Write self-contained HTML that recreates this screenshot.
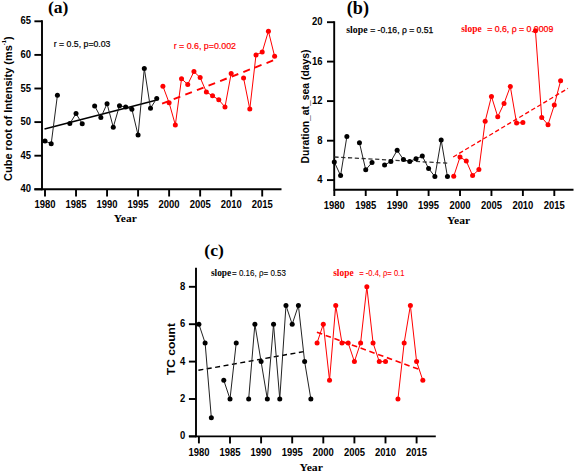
<!DOCTYPE html><html><head><meta charset="utf-8"><style>html,body{margin:0;padding:0;background:#fff;}svg{display:block;}</style></head><body>
<svg width="575" height="473" viewBox="0 0 575 473">
<rect width="575" height="473" fill="#fff"/>
<line x1="42" y1="20.35" x2="42" y2="190.25" stroke="#000" stroke-width="1.9"/>
<line x1="34.4" y1="189.3" x2="281.5" y2="189.3" stroke="#000" stroke-width="1.9"/>
<line x1="34.4" y1="189.3" x2="42" y2="189.3" stroke="#000" stroke-width="1.9"/>
<text transform="translate(31,192.32) scale(0.9,1)" font-family='"Liberation Sans", sans-serif' font-size="10.5" font-weight="bold" text-anchor="end" fill="#000">40</text>
<line x1="34.4" y1="155.7" x2="42" y2="155.7" stroke="#000" stroke-width="1.9"/>
<text transform="translate(31,158.72) scale(0.9,1)" font-family='"Liberation Sans", sans-serif' font-size="10.5" font-weight="bold" text-anchor="end" fill="#000">45</text>
<line x1="34.4" y1="122.1" x2="42" y2="122.1" stroke="#000" stroke-width="1.9"/>
<text transform="translate(31,125.12) scale(0.9,1)" font-family='"Liberation Sans", sans-serif' font-size="10.5" font-weight="bold" text-anchor="end" fill="#000">50</text>
<line x1="34.4" y1="88.5" x2="42" y2="88.5" stroke="#000" stroke-width="1.9"/>
<text transform="translate(31,91.52) scale(0.9,1)" font-family='"Liberation Sans", sans-serif' font-size="10.5" font-weight="bold" text-anchor="end" fill="#000">55</text>
<line x1="34.4" y1="54.9" x2="42" y2="54.9" stroke="#000" stroke-width="1.9"/>
<text transform="translate(31,57.92) scale(0.9,1)" font-family='"Liberation Sans", sans-serif' font-size="10.5" font-weight="bold" text-anchor="end" fill="#000">60</text>
<line x1="34.4" y1="21.3" x2="42" y2="21.3" stroke="#000" stroke-width="1.9"/>
<text transform="translate(31,24.32) scale(0.9,1)" font-family='"Liberation Sans", sans-serif' font-size="10.5" font-weight="bold" text-anchor="end" fill="#000">65</text>
<line x1="45" y1="189.3" x2="45" y2="196.5" stroke="#000" stroke-width="1.9"/>
<text transform="translate(45,208.3) scale(0.9,1)" font-family='"Liberation Sans", sans-serif' font-size="10.5" font-weight="bold" text-anchor="middle" fill="#000">1980</text>
<line x1="76.03" y1="189.3" x2="76.03" y2="196.5" stroke="#000" stroke-width="1.9"/>
<text transform="translate(76.03,208.3) scale(0.9,1)" font-family='"Liberation Sans", sans-serif' font-size="10.5" font-weight="bold" text-anchor="middle" fill="#000">1985</text>
<line x1="107.06" y1="189.3" x2="107.06" y2="196.5" stroke="#000" stroke-width="1.9"/>
<text transform="translate(107.06,208.3) scale(0.9,1)" font-family='"Liberation Sans", sans-serif' font-size="10.5" font-weight="bold" text-anchor="middle" fill="#000">1990</text>
<line x1="138.09" y1="189.3" x2="138.09" y2="196.5" stroke="#000" stroke-width="1.9"/>
<text transform="translate(138.09,208.3) scale(0.9,1)" font-family='"Liberation Sans", sans-serif' font-size="10.5" font-weight="bold" text-anchor="middle" fill="#000">1995</text>
<line x1="169.12" y1="189.3" x2="169.12" y2="196.5" stroke="#000" stroke-width="1.9"/>
<text transform="translate(169.12,208.3) scale(0.9,1)" font-family='"Liberation Sans", sans-serif' font-size="10.5" font-weight="bold" text-anchor="middle" fill="#000">2000</text>
<line x1="200.15" y1="189.3" x2="200.15" y2="196.5" stroke="#000" stroke-width="1.9"/>
<text transform="translate(200.15,208.3) scale(0.9,1)" font-family='"Liberation Sans", sans-serif' font-size="10.5" font-weight="bold" text-anchor="middle" fill="#000">2005</text>
<line x1="231.18" y1="189.3" x2="231.18" y2="196.5" stroke="#000" stroke-width="1.9"/>
<text transform="translate(231.18,208.3) scale(0.9,1)" font-family='"Liberation Sans", sans-serif' font-size="10.5" font-weight="bold" text-anchor="middle" fill="#000">2010</text>
<line x1="262.21" y1="189.3" x2="262.21" y2="196.5" stroke="#000" stroke-width="1.9"/>
<text transform="translate(262.21,208.3) scale(0.9,1)" font-family='"Liberation Sans", sans-serif' font-size="10.5" font-weight="bold" text-anchor="middle" fill="#000">2015</text>
<text x="47.9" y="13.2" font-family='"Liberation Serif", serif' font-size="17.6" font-weight="bold" text-anchor="start" fill="#000" >(a)</text>
<text transform="translate(11.5,180.9) rotate(-90)" font-family='"Liberation Sans", sans-serif' font-size="10.6" font-weight="bold" textLength="144.5" lengthAdjust="spacingAndGlyphs">Cube root of Intensity (ms<tspan dy="-5.6" font-size="5.6">-1</tspan><tspan dy="5.6">)</tspan></text>
<text transform="translate(113.8,221.6) scale(1,1)" font-family='"Liberation Serif", serif' font-size="11.4" font-weight="bold" text-anchor="start" fill="#000" textLength="23" lengthAdjust="spacingAndGlyphs">Year</text>
<text x="53.8" y="46.5" font-family='"Liberation Sans", sans-serif' font-size="8.9" fill="#000" stroke="#000" stroke-width="0.2" textLength="56.6" lengthAdjust="spacingAndGlyphs">r = 0.5, p=0.03</text>
<text x="173.7" y="48.9" font-family='"Liberation Sans", sans-serif' font-size="9.0" fill="#ff0000" stroke="#ff0000" stroke-width="0.2" textLength="62.3" lengthAdjust="spacingAndGlyphs">r = 0.6, p=0.002</text>
<line x1="44.5" y1="128.9" x2="155" y2="100.4" stroke="#000" stroke-width="1.5"/>
<line x1="162.1" y1="103.6" x2="275.6" y2="59.5" stroke="#ff0000" stroke-width="1.9" stroke-dasharray="7.05 5.4"/>
<polyline fill="none" stroke="#222" stroke-width="1" stroke-linejoin="round" points="45,141.1 51.21,143.7 57.41,95.3"/>
<polyline fill="none" stroke="#222" stroke-width="1" stroke-linejoin="round" points="69.82,123.6 76.03,113.6 82.24,123.8"/>
<polyline fill="none" stroke="#222" stroke-width="1" stroke-linejoin="round" points="94.65,105.9 100.85,117.5 107.06,103.7 113.27,127.2 119.47,105.7 125.68,107.1 131.88,109.2 138.09,135.1 144.3,68.5 150.5,108.2 156.71,98.5"/>
<circle cx="45" cy="141.1" r="2.5" fill="#000"/>
<circle cx="51.21" cy="143.7" r="2.5" fill="#000"/>
<circle cx="57.41" cy="95.3" r="2.5" fill="#000"/>
<circle cx="69.82" cy="123.6" r="2.5" fill="#000"/>
<circle cx="76.03" cy="113.6" r="2.5" fill="#000"/>
<circle cx="82.24" cy="123.8" r="2.5" fill="#000"/>
<circle cx="94.65" cy="105.9" r="2.5" fill="#000"/>
<circle cx="100.85" cy="117.5" r="2.5" fill="#000"/>
<circle cx="107.06" cy="103.7" r="2.5" fill="#000"/>
<circle cx="113.27" cy="127.2" r="2.5" fill="#000"/>
<circle cx="119.47" cy="105.7" r="2.5" fill="#000"/>
<circle cx="125.68" cy="107.1" r="2.5" fill="#000"/>
<circle cx="131.88" cy="109.2" r="2.5" fill="#000"/>
<circle cx="138.09" cy="135.1" r="2.5" fill="#000"/>
<circle cx="144.3" cy="68.5" r="2.5" fill="#000"/>
<circle cx="150.5" cy="108.2" r="2.5" fill="#000"/>
<circle cx="156.71" cy="98.5" r="2.5" fill="#000"/>
<polyline fill="none" stroke="#ff0000" stroke-width="1" stroke-linejoin="round" points="162.91,86.2 169.12,102.8 175.33,124.9 181.53,78.8 187.74,84.4 193.94,71.6 200.15,77.6 206.36,92 212.56,95.8 218.77,99.8 224.97,107 231.18,73.5"/>
<polyline fill="none" stroke="#ff0000" stroke-width="1" stroke-linejoin="round" points="243.59,78.1 249.8,109.1 256,54.9 262.21,52.1 268.42,31.2 274.62,56.3"/>
<circle cx="162.91" cy="86.2" r="2.5" fill="#ff0000"/>
<circle cx="169.12" cy="102.8" r="2.5" fill="#ff0000"/>
<circle cx="175.33" cy="124.9" r="2.5" fill="#ff0000"/>
<circle cx="181.53" cy="78.8" r="2.5" fill="#ff0000"/>
<circle cx="187.74" cy="84.4" r="2.5" fill="#ff0000"/>
<circle cx="193.94" cy="71.6" r="2.5" fill="#ff0000"/>
<circle cx="200.15" cy="77.6" r="2.5" fill="#ff0000"/>
<circle cx="206.36" cy="92" r="2.5" fill="#ff0000"/>
<circle cx="212.56" cy="95.8" r="2.5" fill="#ff0000"/>
<circle cx="218.77" cy="99.8" r="2.5" fill="#ff0000"/>
<circle cx="224.97" cy="107" r="2.5" fill="#ff0000"/>
<circle cx="231.18" cy="73.5" r="2.5" fill="#ff0000"/>
<circle cx="243.59" cy="78.1" r="2.5" fill="#ff0000"/>
<circle cx="249.8" cy="109.1" r="2.5" fill="#ff0000"/>
<circle cx="256" cy="54.9" r="2.5" fill="#ff0000"/>
<circle cx="262.21" cy="52.1" r="2.5" fill="#ff0000"/>
<circle cx="268.42" cy="31.2" r="2.5" fill="#ff0000"/>
<circle cx="274.62" cy="56.3" r="2.5" fill="#ff0000"/>
<line x1="334.2" y1="21.25" x2="334.2" y2="190.65" stroke="#000" stroke-width="1.9"/>
<line x1="334.2" y1="189.7" x2="573.5" y2="189.7" stroke="#000" stroke-width="1.9"/>
<line x1="327" y1="180.1" x2="334.2" y2="180.1" stroke="#000" stroke-width="1.9"/>
<text transform="translate(322.6,183.12) scale(0.9,1)" font-family='"Liberation Sans", sans-serif' font-size="10.5" font-weight="bold" text-anchor="end" fill="#000">4</text>
<line x1="327" y1="140.7" x2="334.2" y2="140.7" stroke="#000" stroke-width="1.9"/>
<text transform="translate(322.6,143.72) scale(0.9,1)" font-family='"Liberation Sans", sans-serif' font-size="10.5" font-weight="bold" text-anchor="end" fill="#000">8</text>
<line x1="327" y1="101.1" x2="334.2" y2="101.1" stroke="#000" stroke-width="1.9"/>
<text transform="translate(322.6,104.12) scale(0.9,1)" font-family='"Liberation Sans", sans-serif' font-size="10.5" font-weight="bold" text-anchor="end" fill="#000">12</text>
<line x1="327" y1="61.6" x2="334.2" y2="61.6" stroke="#000" stroke-width="1.9"/>
<text transform="translate(322.6,64.62) scale(0.9,1)" font-family='"Liberation Sans", sans-serif' font-size="10.5" font-weight="bold" text-anchor="end" fill="#000">16</text>
<line x1="327" y1="22.2" x2="334.2" y2="22.2" stroke="#000" stroke-width="1.9"/>
<text transform="translate(322.6,25.22) scale(0.9,1)" font-family='"Liberation Sans", sans-serif' font-size="10.5" font-weight="bold" text-anchor="end" fill="#000">20</text>
<line x1="334.3" y1="189.7" x2="334.3" y2="196" stroke="#000" stroke-width="1.9"/>
<text transform="translate(334.3,209.4) scale(0.9,1)" font-family='"Liberation Sans", sans-serif' font-size="10.5" font-weight="bold" text-anchor="middle" fill="#000">1980</text>
<line x1="365.73" y1="189.7" x2="365.73" y2="196" stroke="#000" stroke-width="1.9"/>
<text transform="translate(365.73,209.4) scale(0.9,1)" font-family='"Liberation Sans", sans-serif' font-size="10.5" font-weight="bold" text-anchor="middle" fill="#000">1985</text>
<line x1="397.16" y1="189.7" x2="397.16" y2="196" stroke="#000" stroke-width="1.9"/>
<text transform="translate(397.16,209.4) scale(0.9,1)" font-family='"Liberation Sans", sans-serif' font-size="10.5" font-weight="bold" text-anchor="middle" fill="#000">1990</text>
<line x1="428.59" y1="189.7" x2="428.59" y2="196" stroke="#000" stroke-width="1.9"/>
<text transform="translate(428.59,209.4) scale(0.9,1)" font-family='"Liberation Sans", sans-serif' font-size="10.5" font-weight="bold" text-anchor="middle" fill="#000">1995</text>
<line x1="460.02" y1="189.7" x2="460.02" y2="196" stroke="#000" stroke-width="1.9"/>
<text transform="translate(460.02,209.4) scale(0.9,1)" font-family='"Liberation Sans", sans-serif' font-size="10.5" font-weight="bold" text-anchor="middle" fill="#000">2000</text>
<line x1="491.45" y1="189.7" x2="491.45" y2="196" stroke="#000" stroke-width="1.9"/>
<text transform="translate(491.45,209.4) scale(0.9,1)" font-family='"Liberation Sans", sans-serif' font-size="10.5" font-weight="bold" text-anchor="middle" fill="#000">2005</text>
<line x1="522.88" y1="189.7" x2="522.88" y2="196" stroke="#000" stroke-width="1.9"/>
<text transform="translate(522.88,209.4) scale(0.9,1)" font-family='"Liberation Sans", sans-serif' font-size="10.5" font-weight="bold" text-anchor="middle" fill="#000">2010</text>
<line x1="554.31" y1="189.7" x2="554.31" y2="196" stroke="#000" stroke-width="1.9"/>
<text transform="translate(554.31,209.4) scale(0.9,1)" font-family='"Liberation Sans", sans-serif' font-size="10.5" font-weight="bold" text-anchor="middle" fill="#000">2015</text>
<text x="346.8" y="14.3" font-family='"Liberation Serif", serif' font-size="18.2" font-weight="bold" text-anchor="start" fill="#000" >(b)</text>
<text transform="translate(309.2,163.4) rotate(-90)" font-family='"Liberation Sans", sans-serif' font-size="10.2" font-weight="bold" textLength="113.8" lengthAdjust="spacingAndGlyphs">Duration_at_sea (days)</text>
<text transform="translate(447,223.7) scale(1,1)" font-family='"Liberation Serif", serif' font-size="11.4" font-weight="bold" text-anchor="start" fill="#000" textLength="23.2" lengthAdjust="spacingAndGlyphs">Year</text>
<text x="346.3" y="32.6" font-family='"Liberation Serif", serif' font-size="9.9" font-weight="bold" fill="#000" textLength="21.3" lengthAdjust="spacingAndGlyphs">slope</text>
<text x="370.2" y="32.6" font-family='"Liberation Sans", sans-serif' font-size="8.7" fill="#000" stroke="#000" stroke-width="0.25" textLength="63.1" lengthAdjust="spacingAndGlyphs">= -0.16, ρ = 0.51</text>
<text x="461.2" y="32.3" font-family='"Liberation Serif", serif' font-size="9.9" font-weight="bold" fill="#ff0000" textLength="20.5" lengthAdjust="spacingAndGlyphs">slope</text>
<text x="487.2" y="32.3" font-family='"Liberation Sans", sans-serif' font-size="8.7" fill="#ff0000" stroke="#ff0000" stroke-width="0.25" textLength="66.1" lengthAdjust="spacingAndGlyphs">= 0.6, ρ = 0.0009</text>
<line x1="334.4" y1="157.0" x2="448.1" y2="163.2" stroke="#333" stroke-width="1.3" stroke-dasharray="4.2 2.6"/>
<line x1="453.2" y1="157.0" x2="567.9" y2="88.4" stroke="#ff0000" stroke-width="1.3" stroke-dasharray="4.4 2.6"/>
<polyline fill="none" stroke="#222" stroke-width="1" stroke-linejoin="round" points="334.3,162 340.59,175.5 346.87,136.6"/>
<polyline fill="none" stroke="#222" stroke-width="1" stroke-linejoin="round" points="359.44,142.7 365.73,169.8 372.02,162.5"/>
<polyline fill="none" stroke="#222" stroke-width="1" stroke-linejoin="round" points="384.59,165.1 390.87,161.4 397.16,150.3 403.45,159.5 409.73,161.5 416.02,158.7 422.3,156.1 428.59,168.4 434.88,176.6 441.16,140 447.45,176.6"/>
<circle cx="334.3" cy="162" r="2.5" fill="#000"/>
<circle cx="340.59" cy="175.5" r="2.5" fill="#000"/>
<circle cx="346.87" cy="136.6" r="2.5" fill="#000"/>
<circle cx="359.44" cy="142.7" r="2.5" fill="#000"/>
<circle cx="365.73" cy="169.8" r="2.5" fill="#000"/>
<circle cx="372.02" cy="162.5" r="2.5" fill="#000"/>
<circle cx="384.59" cy="165.1" r="2.5" fill="#000"/>
<circle cx="390.87" cy="161.4" r="2.5" fill="#000"/>
<circle cx="397.16" cy="150.3" r="2.5" fill="#000"/>
<circle cx="403.45" cy="159.5" r="2.5" fill="#000"/>
<circle cx="409.73" cy="161.5" r="2.5" fill="#000"/>
<circle cx="416.02" cy="158.7" r="2.5" fill="#000"/>
<circle cx="422.3" cy="156.1" r="2.5" fill="#000"/>
<circle cx="428.59" cy="168.4" r="2.5" fill="#000"/>
<circle cx="434.88" cy="176.6" r="2.5" fill="#000"/>
<circle cx="441.16" cy="140" r="2.5" fill="#000"/>
<circle cx="447.45" cy="176.6" r="2.5" fill="#000"/>
<polyline fill="none" stroke="#ff0000" stroke-width="1" stroke-linejoin="round" points="453.73,176.3 460.02,157 466.31,161.1 472.59,175.5 478.88,169.6 485.16,121.3 491.45,96.4 497.74,116.7 504.02,103.5 510.31,86.5 516.59,123.1 522.88,122.6"/>
<polyline fill="none" stroke="#ff0000" stroke-width="1" stroke-linejoin="round" points="535.45,30.7 541.74,117.5 548.02,124.7 554.31,105.1 560.6,80.8"/>
<circle cx="453.73" cy="176.3" r="2.5" fill="#ff0000"/>
<circle cx="460.02" cy="157" r="2.5" fill="#ff0000"/>
<circle cx="466.31" cy="161.1" r="2.5" fill="#ff0000"/>
<circle cx="472.59" cy="175.5" r="2.5" fill="#ff0000"/>
<circle cx="478.88" cy="169.6" r="2.5" fill="#ff0000"/>
<circle cx="485.16" cy="121.3" r="2.5" fill="#ff0000"/>
<circle cx="491.45" cy="96.4" r="2.5" fill="#ff0000"/>
<circle cx="497.74" cy="116.7" r="2.5" fill="#ff0000"/>
<circle cx="504.02" cy="103.5" r="2.5" fill="#ff0000"/>
<circle cx="510.31" cy="86.5" r="2.5" fill="#ff0000"/>
<circle cx="516.59" cy="123.1" r="2.5" fill="#ff0000"/>
<circle cx="522.88" cy="122.6" r="2.5" fill="#ff0000"/>
<circle cx="535.45" cy="30.7" r="2.5" fill="#ff0000"/>
<circle cx="541.74" cy="117.5" r="2.5" fill="#ff0000"/>
<circle cx="548.02" cy="124.7" r="2.5" fill="#ff0000"/>
<circle cx="554.31" cy="105.1" r="2.5" fill="#ff0000"/>
<circle cx="560.6" cy="80.8" r="2.5" fill="#ff0000"/>
<line x1="196" y1="267.7" x2="196" y2="437.35" stroke="#000" stroke-width="1.9"/>
<line x1="188.9" y1="436.4" x2="435.8" y2="436.4" stroke="#000" stroke-width="1.9"/>
<line x1="188.9" y1="436.4" x2="196" y2="436.4" stroke="#000" stroke-width="1.9"/>
<text transform="translate(185.2,439.42) scale(0.9,1)" font-family='"Liberation Sans", sans-serif' font-size="10.5" font-weight="bold" text-anchor="end" fill="#000">0</text>
<line x1="188.9" y1="399" x2="196" y2="399" stroke="#000" stroke-width="1.9"/>
<text transform="translate(185.2,402.02) scale(0.9,1)" font-family='"Liberation Sans", sans-serif' font-size="10.5" font-weight="bold" text-anchor="end" fill="#000">2</text>
<line x1="188.9" y1="361.6" x2="196" y2="361.6" stroke="#000" stroke-width="1.9"/>
<text transform="translate(185.2,364.62) scale(0.9,1)" font-family='"Liberation Sans", sans-serif' font-size="10.5" font-weight="bold" text-anchor="end" fill="#000">4</text>
<line x1="188.9" y1="324.2" x2="196" y2="324.2" stroke="#000" stroke-width="1.9"/>
<text transform="translate(185.2,327.22) scale(0.9,1)" font-family='"Liberation Sans", sans-serif' font-size="10.5" font-weight="bold" text-anchor="end" fill="#000">6</text>
<line x1="188.9" y1="286.8" x2="196" y2="286.8" stroke="#000" stroke-width="1.9"/>
<text transform="translate(185.2,289.82) scale(0.9,1)" font-family='"Liberation Sans", sans-serif' font-size="10.5" font-weight="bold" text-anchor="end" fill="#000">8</text>
<line x1="198.9" y1="436.4" x2="198.9" y2="443.4" stroke="#000" stroke-width="1.9"/>
<text transform="translate(198.9,455.6) scale(0.9,1)" font-family='"Liberation Sans", sans-serif' font-size="10.5" font-weight="bold" text-anchor="middle" fill="#000">1980</text>
<line x1="230" y1="436.4" x2="230" y2="443.4" stroke="#000" stroke-width="1.9"/>
<text transform="translate(230,455.6) scale(0.9,1)" font-family='"Liberation Sans", sans-serif' font-size="10.5" font-weight="bold" text-anchor="middle" fill="#000">1985</text>
<line x1="261.1" y1="436.4" x2="261.1" y2="443.4" stroke="#000" stroke-width="1.9"/>
<text transform="translate(261.1,455.6) scale(0.9,1)" font-family='"Liberation Sans", sans-serif' font-size="10.5" font-weight="bold" text-anchor="middle" fill="#000">1990</text>
<line x1="292.2" y1="436.4" x2="292.2" y2="443.4" stroke="#000" stroke-width="1.9"/>
<text transform="translate(292.2,455.6) scale(0.9,1)" font-family='"Liberation Sans", sans-serif' font-size="10.5" font-weight="bold" text-anchor="middle" fill="#000">1995</text>
<line x1="323.3" y1="436.4" x2="323.3" y2="443.4" stroke="#000" stroke-width="1.9"/>
<text transform="translate(323.3,455.6) scale(0.9,1)" font-family='"Liberation Sans", sans-serif' font-size="10.5" font-weight="bold" text-anchor="middle" fill="#000">2000</text>
<line x1="354.4" y1="436.4" x2="354.4" y2="443.4" stroke="#000" stroke-width="1.9"/>
<text transform="translate(354.4,455.6) scale(0.9,1)" font-family='"Liberation Sans", sans-serif' font-size="10.5" font-weight="bold" text-anchor="middle" fill="#000">2005</text>
<line x1="385.5" y1="436.4" x2="385.5" y2="443.4" stroke="#000" stroke-width="1.9"/>
<text transform="translate(385.5,455.6) scale(0.9,1)" font-family='"Liberation Sans", sans-serif' font-size="10.5" font-weight="bold" text-anchor="middle" fill="#000">2010</text>
<line x1="416.6" y1="436.4" x2="416.6" y2="443.4" stroke="#000" stroke-width="1.9"/>
<text transform="translate(416.6,455.6) scale(0.9,1)" font-family='"Liberation Sans", sans-serif' font-size="10.5" font-weight="bold" text-anchor="middle" fill="#000">2015</text>
<text x="204.3" y="256" font-family='"Liberation Serif", serif' font-size="17.6" font-weight="bold" text-anchor="start" fill="#000" >(c)</text>
<text transform="translate(174.7,375.2) rotate(-90)" font-family='"Liberation Sans", sans-serif' font-size="11.3" font-weight="bold" textLength="52.2" lengthAdjust="spacingAndGlyphs">TC count</text>
<text transform="translate(299.5,471.4) scale(1,1)" font-family='"Liberation Serif", serif' font-size="11.4" font-weight="bold" text-anchor="start" fill="#000" textLength="23.4" lengthAdjust="spacingAndGlyphs">Year</text>
<text x="210.9" y="276" font-family='"Liberation Serif", serif' font-size="9.4" font-weight="bold" fill="#000" textLength="20.3" lengthAdjust="spacingAndGlyphs">slope</text>
<text x="232" y="276" font-family='"Liberation Sans", sans-serif' font-size="8.6" fill="#000" stroke="#000" stroke-width="0.1" textLength="54" lengthAdjust="spacingAndGlyphs">= 0.16, ρ= 0.53</text>
<text x="333.2" y="275.8" font-family='"Liberation Serif", serif' font-size="9.4" font-weight="bold" fill="#ff0000" textLength="20.4" lengthAdjust="spacingAndGlyphs">slope</text>
<text x="359.3" y="275.8" font-family='"Liberation Sans", sans-serif' font-size="8.6" fill="#ff0000" stroke="#ff0000" stroke-width="0.1" textLength="45.1" lengthAdjust="spacingAndGlyphs">= -0.4, ρ= 0.1</text>
<line x1="198.4" y1="370.3" x2="303.7" y2="351.6" stroke="#000" stroke-width="1.4" stroke-dasharray="5 3.5"/>
<line x1="316.9" y1="332.2" x2="421.4" y2="370.2" stroke="#ff0000" stroke-width="1.6" stroke-dasharray="5.6 3.7"/>
<polyline fill="none" stroke="#222" stroke-width="1" stroke-linejoin="round" points="198.9,324.2 205.12,342.9 211.34,417.7"/>
<polyline fill="none" stroke="#222" stroke-width="1" stroke-linejoin="round" points="223.78,380.3 230,399 236.22,342.9"/>
<polyline fill="none" stroke="#222" stroke-width="1" stroke-linejoin="round" points="248.66,399 254.88,324.2 261.1,361.6 267.32,399 273.54,324.2 279.76,399 285.98,305.5 292.2,324.2 298.42,305.5 304.64,361.6 310.86,399"/>
<circle cx="198.9" cy="324.2" r="2.5" fill="#000"/>
<circle cx="205.12" cy="342.9" r="2.5" fill="#000"/>
<circle cx="211.34" cy="417.7" r="2.5" fill="#000"/>
<circle cx="223.78" cy="380.3" r="2.5" fill="#000"/>
<circle cx="230" cy="399" r="2.5" fill="#000"/>
<circle cx="236.22" cy="342.9" r="2.5" fill="#000"/>
<circle cx="248.66" cy="399" r="2.5" fill="#000"/>
<circle cx="254.88" cy="324.2" r="2.5" fill="#000"/>
<circle cx="261.1" cy="361.6" r="2.5" fill="#000"/>
<circle cx="267.32" cy="399" r="2.5" fill="#000"/>
<circle cx="273.54" cy="324.2" r="2.5" fill="#000"/>
<circle cx="279.76" cy="399" r="2.5" fill="#000"/>
<circle cx="285.98" cy="305.5" r="2.5" fill="#000"/>
<circle cx="292.2" cy="324.2" r="2.5" fill="#000"/>
<circle cx="298.42" cy="305.5" r="2.5" fill="#000"/>
<circle cx="304.64" cy="361.6" r="2.5" fill="#000"/>
<circle cx="310.86" cy="399" r="2.5" fill="#000"/>
<polyline fill="none" stroke="#ff0000" stroke-width="1" stroke-linejoin="round" points="317.08,342.9 323.3,324.2 329.52,380.3 335.74,305.5 341.96,342.9 348.18,342.9 354.4,361.6 360.62,342.9 366.84,286.8 373.06,342.9 379.28,361.6 385.5,361.6"/>
<polyline fill="none" stroke="#ff0000" stroke-width="1" stroke-linejoin="round" points="397.94,399 404.16,342.9 410.38,305.5 416.6,361.6 422.82,380.3"/>
<circle cx="317.08" cy="342.9" r="2.5" fill="#ff0000"/>
<circle cx="323.3" cy="324.2" r="2.5" fill="#ff0000"/>
<circle cx="329.52" cy="380.3" r="2.5" fill="#ff0000"/>
<circle cx="335.74" cy="305.5" r="2.5" fill="#ff0000"/>
<circle cx="341.96" cy="342.9" r="2.5" fill="#ff0000"/>
<circle cx="348.18" cy="342.9" r="2.5" fill="#ff0000"/>
<circle cx="354.4" cy="361.6" r="2.5" fill="#ff0000"/>
<circle cx="360.62" cy="342.9" r="2.5" fill="#ff0000"/>
<circle cx="366.84" cy="286.8" r="2.5" fill="#ff0000"/>
<circle cx="373.06" cy="342.9" r="2.5" fill="#ff0000"/>
<circle cx="379.28" cy="361.6" r="2.5" fill="#ff0000"/>
<circle cx="385.5" cy="361.6" r="2.5" fill="#ff0000"/>
<circle cx="397.94" cy="399" r="2.5" fill="#ff0000"/>
<circle cx="404.16" cy="342.9" r="2.5" fill="#ff0000"/>
<circle cx="410.38" cy="305.5" r="2.5" fill="#ff0000"/>
<circle cx="416.6" cy="361.6" r="2.5" fill="#ff0000"/>
<circle cx="422.82" cy="380.3" r="2.5" fill="#ff0000"/>
</svg></body></html>
